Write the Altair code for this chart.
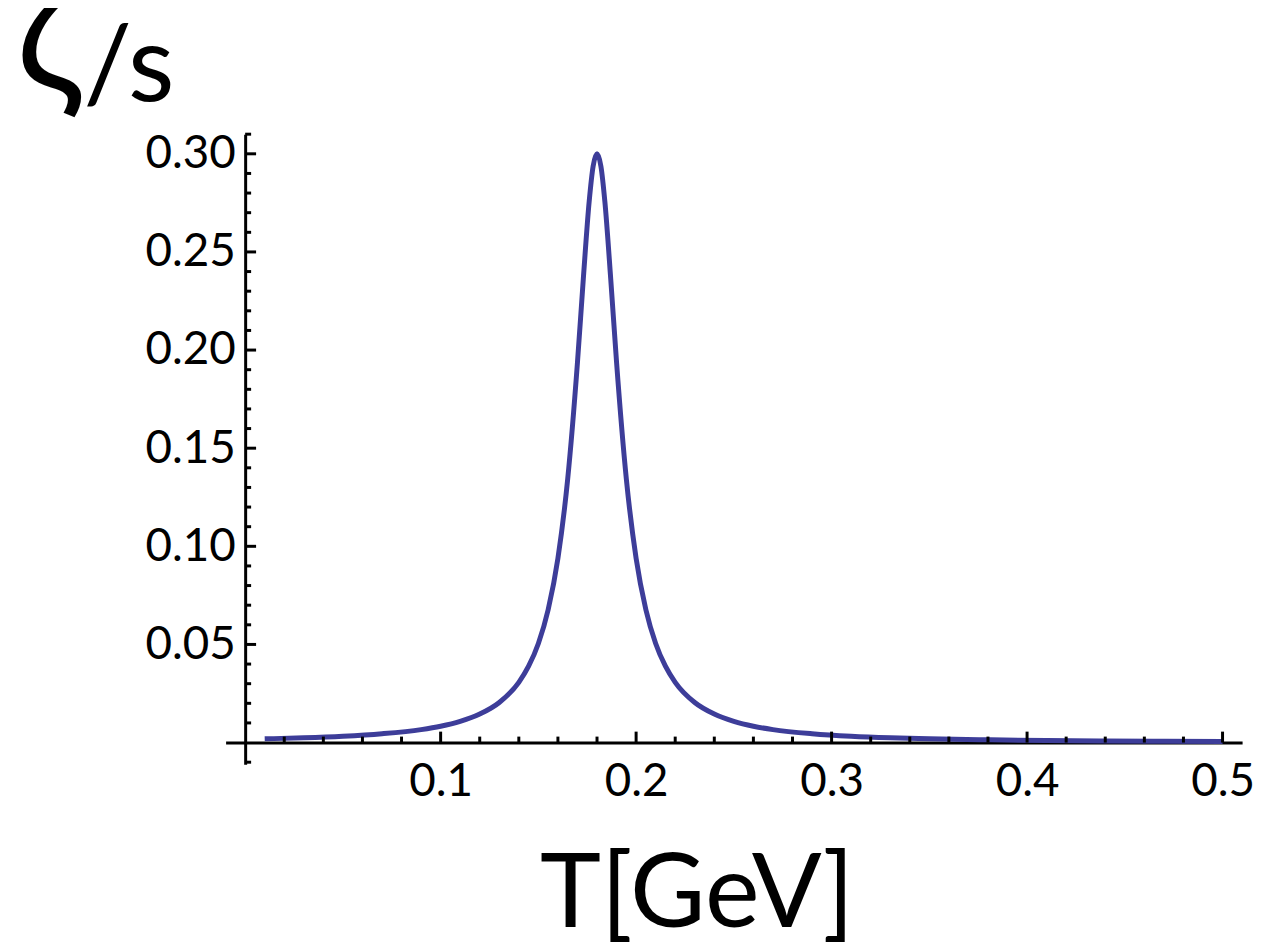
import altair as alt
import pandas as pd

# ---- data ----
T = [0.01, 0.03, 0.05, 0.07, 0.09, 0.10, 0.11, 0.12, 0.13, 0.14,
     0.145, 0.15, 0.155, 0.16, 0.165, 0.17, 0.173, 0.176, 0.178, 0.18,
     0.182, 0.184, 0.187, 0.19, 0.195, 0.20, 0.205, 0.21, 0.215, 0.22,
     0.23, 0.24, 0.25, 0.26, 0.27, 0.29, 0.31, 0.33, 0.35, 0.38,
     0.41, 0.44, 0.47, 0.50]
zeta_s = [0.0019, 0.0024, 0.0032, 0.0045, 0.0066, 0.0083, 0.0108, 0.0145, 0.0204, 0.0307,
          0.0389, 0.0505, 0.0677, 0.0939, 0.1343, 0.1937, 0.2364, 0.2758, 0.2936, 0.3000,
          0.2936, 0.2758, 0.2364, 0.1937, 0.1343, 0.0939, 0.0677, 0.0505, 0.0389, 0.0307,
          0.0204, 0.0145, 0.0108, 0.0083, 0.0066, 0.0045, 0.0032, 0.0024, 0.0019, 0.0014,
          0.0010, 0.0008, 0.0007, 0.0005]

x_major = [0.1, 0.2, 0.3, 0.4, 0.5]
x_minor = [round(0.02 * i, 2) for i in range(1, 25) if i % 5 != 0]
y_major = [0.05, 0.10, 0.15, 0.20, 0.25, 0.30]
y_minor = [round(0.01 * i, 2) for i in range(-1, 32) if i % 5 != 0]

x_title = "T[GeV]"
y_title_sym = "ζ"
y_title_rest = "/s"

x_domain = [-0.01, 0.51]
y_domain = [-0.011, 0.31]

W, H = 1023, 634
x_axis_off = -W * (0 - x_domain[0]) / (x_domain[1] - x_domain[0])
y_axis_off = -H * (0 - y_domain[0]) / (y_domain[1] - y_domain[0])

FONT = "Lato"
LINE_COLOR = "#3d3d99"

xs = alt.Scale(domain=x_domain, nice=False, zero=False)
ys = alt.Scale(domain=y_domain, nice=False, zero=False)

x_axis = alt.Axis(
    values=x_major, format=".1f", offset=y_axis_off, ticks=False, tickSize=0,
    domainColor="black", domainWidth=3, grid=False,
    labelFont=FONT, labelFontSize=46, labelColor="black", labelPadding=17,
    labelFlush=False, labelOverlap=False,
    title=x_title, titleFont=FONT, titleFontSize=104, titleFontWeight="normal",
    titleColor="black", titleX=474, titleY=185, titleBaseline="alphabetic",
    titleAlign="center")
y_axis = alt.Axis(
    values=y_major, format=".2f", offset=x_axis_off, ticks=False, tickSize=0,
    domainColor="black", domainWidth=3, grid=False,
    labelFont=FONT, labelFontSize=46, labelColor="black", labelPadding=10,
    labelFlush=False, labelOverlap=False, title=None)

df = pd.DataFrame({"T": T, "zeta": zeta_s})

line = alt.Chart(df).mark_line(
    color=LINE_COLOR, strokeWidth=5, interpolate="monotone"
).encode(
    x=alt.X("T:Q", scale=xs, axis=x_axis),
    y=alt.Y("zeta:Q", scale=ys, axis=y_axis),
)

def xticks(vals, size):
    return alt.Chart(pd.DataFrame({"t": vals})).mark_tick(
        orient="vertical", size=size, thickness=3, color="black", opacity=1,
        yOffset=-size / 2
    ).encode(
        x=alt.X("t:Q", scale=xs, axis=x_axis),
        y=alt.YDatum(0, type="quantitative", scale=ys, axis=y_axis),
    )

def yticks(vals, size):
    return alt.Chart(pd.DataFrame({"v": vals})).mark_tick(
        orient="horizontal", size=size, thickness=3, color="black", opacity=1,
        xOffset=size / 2
    ).encode(
        y=alt.Y("v:Q", scale=ys, axis=y_axis),
        x=alt.XDatum(0, type="quantitative", scale=xs, axis=x_axis),
    )

ylab1 = alt.Chart(pd.DataFrame({"label": [y_title_sym]})).mark_text(
    font=FONT, fontSize=160, color="black", align="left", baseline="alphabetic"
).encode(text="label:N", x=alt.value(-211), y=alt.value(-43))

ylab2 = alt.Chart(pd.DataFrame({"label": [y_title_rest]})).mark_text(
    font=FONT, fontSize=108, color="black", align="left", baseline="alphabetic"
).encode(text="label:N", x=alt.value(-143), y=alt.value(-33))

chart = alt.layer(
    line,
    xticks(x_major, 11), xticks(x_minor, 6),
    yticks(y_major, 11), yticks(y_minor, 6),
    ylab1, ylab2,
).properties(
    width=W, height=H,
    autosize=alt.AutoSizeParams(type="none"),
    padding={"left": 219, "top": 124, "right": 15, "bottom": 177},
    background="white",
).configure_view(stroke="transparent", strokeWidth=0)

chart.save("out.html", embed_options={"renderer": "svg", "actions": False})
